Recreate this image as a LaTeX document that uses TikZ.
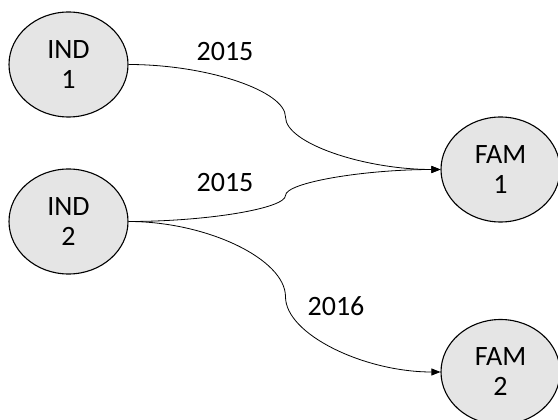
\documentclass[tikz,border=0pt]{standalone}
\usepackage{fontspec}
\setmainfont{Carlito}
\usetikzlibrary{shapes.geometric,arrows.meta}
\begin{document}
\begin{tikzpicture}[x=1pt,y=-1pt,line join=round,>={Triangle[length=9pt,width=7pt]},font=\fontsize{28}{30}\selectfont,
	unit/.style={ellipse,draw,line width=1.1pt,fill=black!10,minimum width=119pt,minimum height=105pt,inner sep=0pt,align=center},
	link/.style={->,line width=.8pt}]
	\useasboundingbox (0,0) rectangle (558,420);
	\def\xm{285.5} \def\xa{206.75} \def\xb{364.25}
	\node[unit] (ind1) at (68.5,64.5) {IND\\1};
	\node[unit] (ind2) at (68.5,221.5) {IND\\2};
	\node[unit] (fam1) at (500.5,169.5) {FAM\\1};
	\node[unit] (fam2) at (500.5,372) {FAM\\2};
	\draw[link] (ind1.east) .. controls (\xa,64.5) and (\xm,90.75) .. (\xm,117) .. controls (\xm,143.25) and (\xb,169.5) .. (fam1.west);
	\draw[link] (ind2.east) .. controls (\xa,221.5) and (\xm,208.5) .. (\xm,195.5) .. controls (\xm,182.5) and (\xb,169.5) .. (fam1.west);
	\draw[link] (ind2.east) .. controls (\xa,221.5) and (\xm,259.1) .. (\xm,296.75) .. controls (\xm,334.4) and (\xb,372) .. (fam2.west);
	\node (y1) at (225,52) {2015};
	\node (y2) at (225,183) {2015};
	\node (y3) at (336,306) {2016};
\end{tikzpicture}
\end{document}
